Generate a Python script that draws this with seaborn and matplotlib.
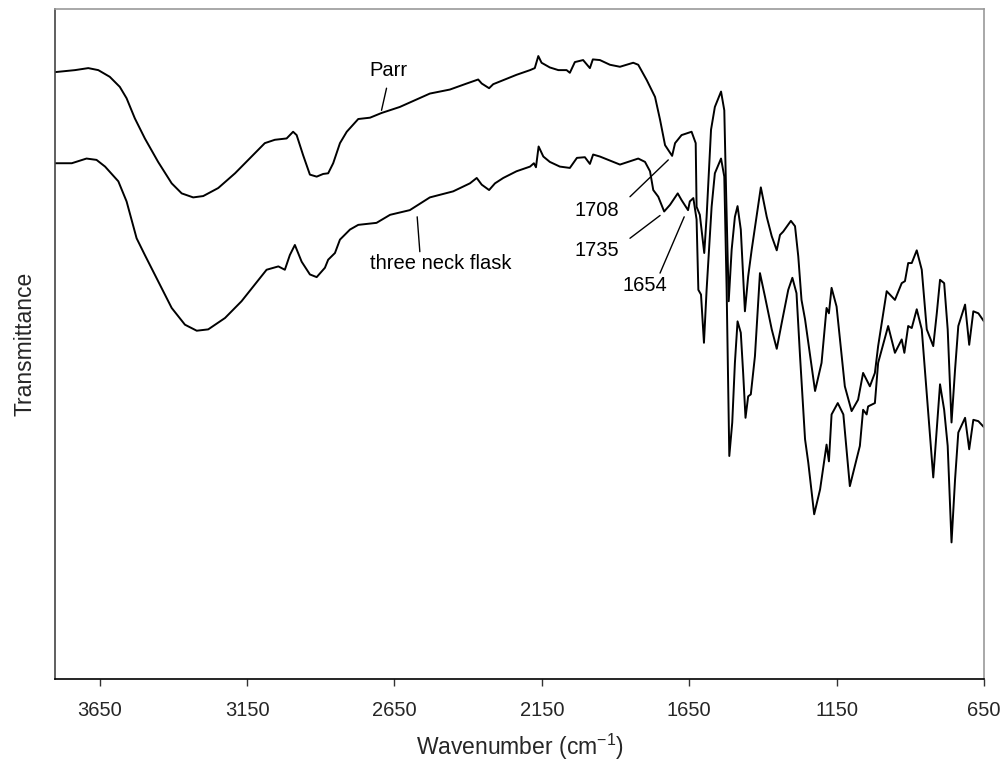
import numpy as np
import pandas as pd
import matplotlib
matplotlib.use("Agg")
import matplotlib.pyplot as plt
import seaborn as sns

# FTIR spectra (wavenumber in cm-1, transmittance in arbitrary % units, offset for display)
parr_wn = [3802, 3734, 3689, 3655, 3616, 3582, 3559, 3531, 3497, 3452, 3406, 3372, 3333, 3299,
           3248, 3191, 3135, 3090, 3056, 3016, 2994, 2982, 2960, 2937, 2914, 2892, 2875, 2858,
           2835, 2812, 2773, 2733, 2694, 2632, 2530, 2462, 2405, 2366, 2354, 2329, 2315, 2281,
           2236, 2190, 2174, 2162, 2151, 2123, 2094, 2066, 2055, 2038, 2010, 1987, 1977, 1953,
           1919, 1885, 1840, 1823, 1794, 1766, 1749, 1732, 1708, 1698, 1676, 1642, 1628, 1625,
           1614, 1599, 1591, 1576, 1563, 1542, 1531, 1525, 1516, 1506, 1495, 1486, 1475, 1461,
           1450, 1438, 1407, 1387, 1370, 1353, 1342, 1331, 1305, 1291, 1280, 1269, 1257, 1223,
           1201, 1184, 1176, 1167, 1150, 1122, 1099, 1077, 1060, 1037, 1020, 1009, 980, 952,
           929, 918, 907, 895, 878, 861, 844, 822, 810, 799, 785, 773, 760, 748, 737, 714,
           700, 686, 669, 650]
parr_t = [90.6, 90.9, 91.2, 90.9, 89.9, 88.4, 86.7, 83.7, 80.7, 77.2, 74.0, 72.5, 71.9, 72.1,
          73.3, 75.5, 78.0, 80.0, 80.5, 80.7, 81.7, 81.2, 78.2, 75.3, 75.0, 75.4, 75.5, 77.0,
          80.0, 81.7, 83.6, 83.8, 84.5, 85.4, 87.4, 88.0, 88.9, 89.5, 88.9, 88.2, 88.8, 89.4,
          90.2, 90.9, 91.2, 93.0, 92.0, 91.3, 90.9, 90.9, 90.5, 92.1, 92.4, 91.2, 92.5, 92.4,
          91.7, 91.4, 92.0, 91.7, 89.4, 86.9, 83.5, 79.7, 78.1, 80.0, 81.2, 81.7, 80.0, 70.5,
          69.3, 63.6, 69.0, 82.0, 85.4, 87.7, 84.9, 73.0, 56.4, 64.1, 69.0, 70.6, 67.1, 54.9,
          60.1, 64.1, 73.4, 69.0, 66.1, 64.0, 66.3, 66.8, 68.4, 67.6, 63.1, 56.6, 53.7, 43.0,
          47.2, 55.4, 54.6, 58.4, 55.6, 43.7, 40.0, 41.7, 45.7, 43.7, 45.7, 49.7, 57.9, 56.6,
          59.1, 59.4, 62.1, 62.1, 64.0, 61.1, 52.2, 49.7, 54.6, 59.6, 59.1, 52.2, 38.3, 46.2,
          52.7, 55.9, 49.9, 54.9, 54.6, 53.4]

flask_wn = [3802, 3745, 3695, 3661, 3632, 3587, 3559, 3525, 3497, 3452, 3406, 3361, 3321, 3282,
            3225, 3169, 3124, 3084, 3044, 3022, 3005, 2988, 2965, 2937, 2914, 2886, 2875, 2852,
            2835, 2801, 2773, 2711, 2665, 2598, 2530, 2451, 2394, 2371, 2354, 2329, 2309, 2281,
            2236, 2190, 2177, 2170, 2161, 2145, 2123, 2089, 2055, 2031, 2004, 1987, 1976, 1953,
            1908, 1885, 1857, 1823, 1800, 1783, 1772, 1755, 1735, 1715, 1689, 1676, 1654, 1648,
            1636, 1625, 1619, 1610, 1600, 1591, 1574, 1563, 1542, 1531, 1523, 1514, 1504, 1495,
            1486, 1475, 1467, 1459, 1450, 1441, 1427, 1410, 1393, 1370, 1353, 1336, 1314, 1300,
            1286, 1274, 1257, 1246, 1226, 1206, 1184, 1176, 1167, 1146, 1127, 1105, 1088, 1071,
            1060, 1048, 1043, 1020, 1009, 975, 952, 929, 920, 907, 895, 878, 861, 839, 822, 810,
            799, 785, 773, 760, 748, 737, 714, 700, 686, 669, 650]
flask_t = [77.0, 77.0, 77.7, 77.5, 76.5, 74.3, 71.3, 65.8, 63.3, 59.4, 55.4, 52.9, 52.0, 52.2,
           53.9, 56.4, 58.9, 61.1, 61.6, 61.1, 63.3, 64.8, 62.3, 60.4, 60.0, 61.4, 62.6, 63.6,
           65.6, 67.1, 67.8, 68.1, 69.3, 70.0, 71.9, 72.8, 74.0, 74.8, 73.8, 73.0, 74.0, 74.8,
           75.8, 76.5, 77.0, 76.4, 79.5, 78.0, 77.2, 76.5, 76.3, 77.8, 77.9, 76.9, 78.3, 78.0,
           77.2, 76.8, 77.2, 77.7, 77.2, 75.8, 73.0, 72.0, 69.8, 70.8, 72.5, 71.5, 70.0, 71.3,
           71.8, 68.6, 58.1, 57.4, 50.2, 58.1, 70.5, 75.5, 77.7, 75.0, 58.1, 33.3, 38.3, 47.2,
           53.4, 51.7, 45.7, 39.0, 42.2, 42.5, 48.2, 60.6, 57.1, 52.2, 49.3, 53.2, 58.1, 59.9,
           57.6, 48.2, 35.8, 32.3, 24.6, 28.3, 35.0, 32.5, 39.5, 41.2, 39.5, 28.8, 31.8, 34.8,
           40.2, 39.5, 40.7, 41.2, 47.2, 52.7, 48.7, 50.7, 48.7, 52.7, 52.4, 55.2, 52.2, 39.7,
           30.1, 37.3, 44.0, 40.2, 34.8, 20.4, 29.8, 36.8, 39.0, 34.3, 38.7, 38.5, 37.6]

x_ticks = [3650, 3150, 2650, 2150, 1650, 1150, 650]

df = pd.concat([
    pd.DataFrame({"wavenumber": parr_wn, "transmittance": parr_t, "sample": "Parr"}),
    pd.DataFrame({"wavenumber": flask_wn, "transmittance": flask_t, "sample": "three neck flask"}),
])

sns.set_theme(style="white")
plt.rcParams["font.family"] = ["Liberation Sans", "DejaVu Sans"]
plt.rcParams["mathtext.fontset"] = "custom"
plt.rcParams["mathtext.rm"] = "Liberation Sans"
plt.rcParams["mathtext.it"] = "Liberation Sans:italic"
plt.rcParams["mathtext.bf"] = "Liberation Sans:bold"

fig = plt.figure(figsize=(10.03, 7.63), dpi=100)
ax = fig.add_axes([0.0548, 0.110, 0.9262, 0.878])

sns.lineplot(data=df, x="wavenumber", y="transmittance", units="sample", estimator=None,
             color="black", linewidth=1.4, ax=ax, legend=False)

ax.set_xlim(3802, 650)
ax.set_ylim(0, 100)
ax.set_xticks(x_ticks)
ax.set_xticklabels([str(t) for t in x_ticks])
ax.set_yticks([])
ax.tick_params(axis="x", direction="out", length=5, width=1, color="#333333",
               labelsize=14.5, pad=11, bottom=True)
ax.set_xlabel("Wavenumber (cm$^{-1}$)", fontsize=16.5, labelpad=8)
ax.set_ylabel("Transmittance", fontsize=16.5, labelpad=13)

for side, col in [("left", "#444444"), ("bottom", "black"), ("top", "#999999"), ("right", "#999999")]:
    ax.spines[side].set_visible(True)
    ax.spines[side].set_color(col)
    ax.spines[side].set_linewidth(1.2)

# Labels and leader lines
ann_kw = dict(fontsize=14.5, ha="center", va="center", color="black")
ax.text(2669, 90.9, "Parr", **ann_kw)
ax.plot([2677, 2694], [88.2, 84.9], color="black", lw=1)
ax.text(2492, 62.0, "three neck flask", **ann_kw)
ax.plot([2573, 2564], [69.0, 63.8], color="black", lw=1)
ax.text(1963, 69.9, "1708", **ann_kw)
ax.plot([1851, 1721], [72.0, 77.5], color="black", lw=1)
ax.text(1963, 63.9, "1735", **ann_kw)
ax.plot([1851, 1749], [65.8, 69.2], color="black", lw=1)
ax.text(1800, 58.7, "1654", **ann_kw)
ax.plot([1749, 1667], [60.6, 69.0], color="black", lw=1)

fig.savefig("out.png", dpi=100)
